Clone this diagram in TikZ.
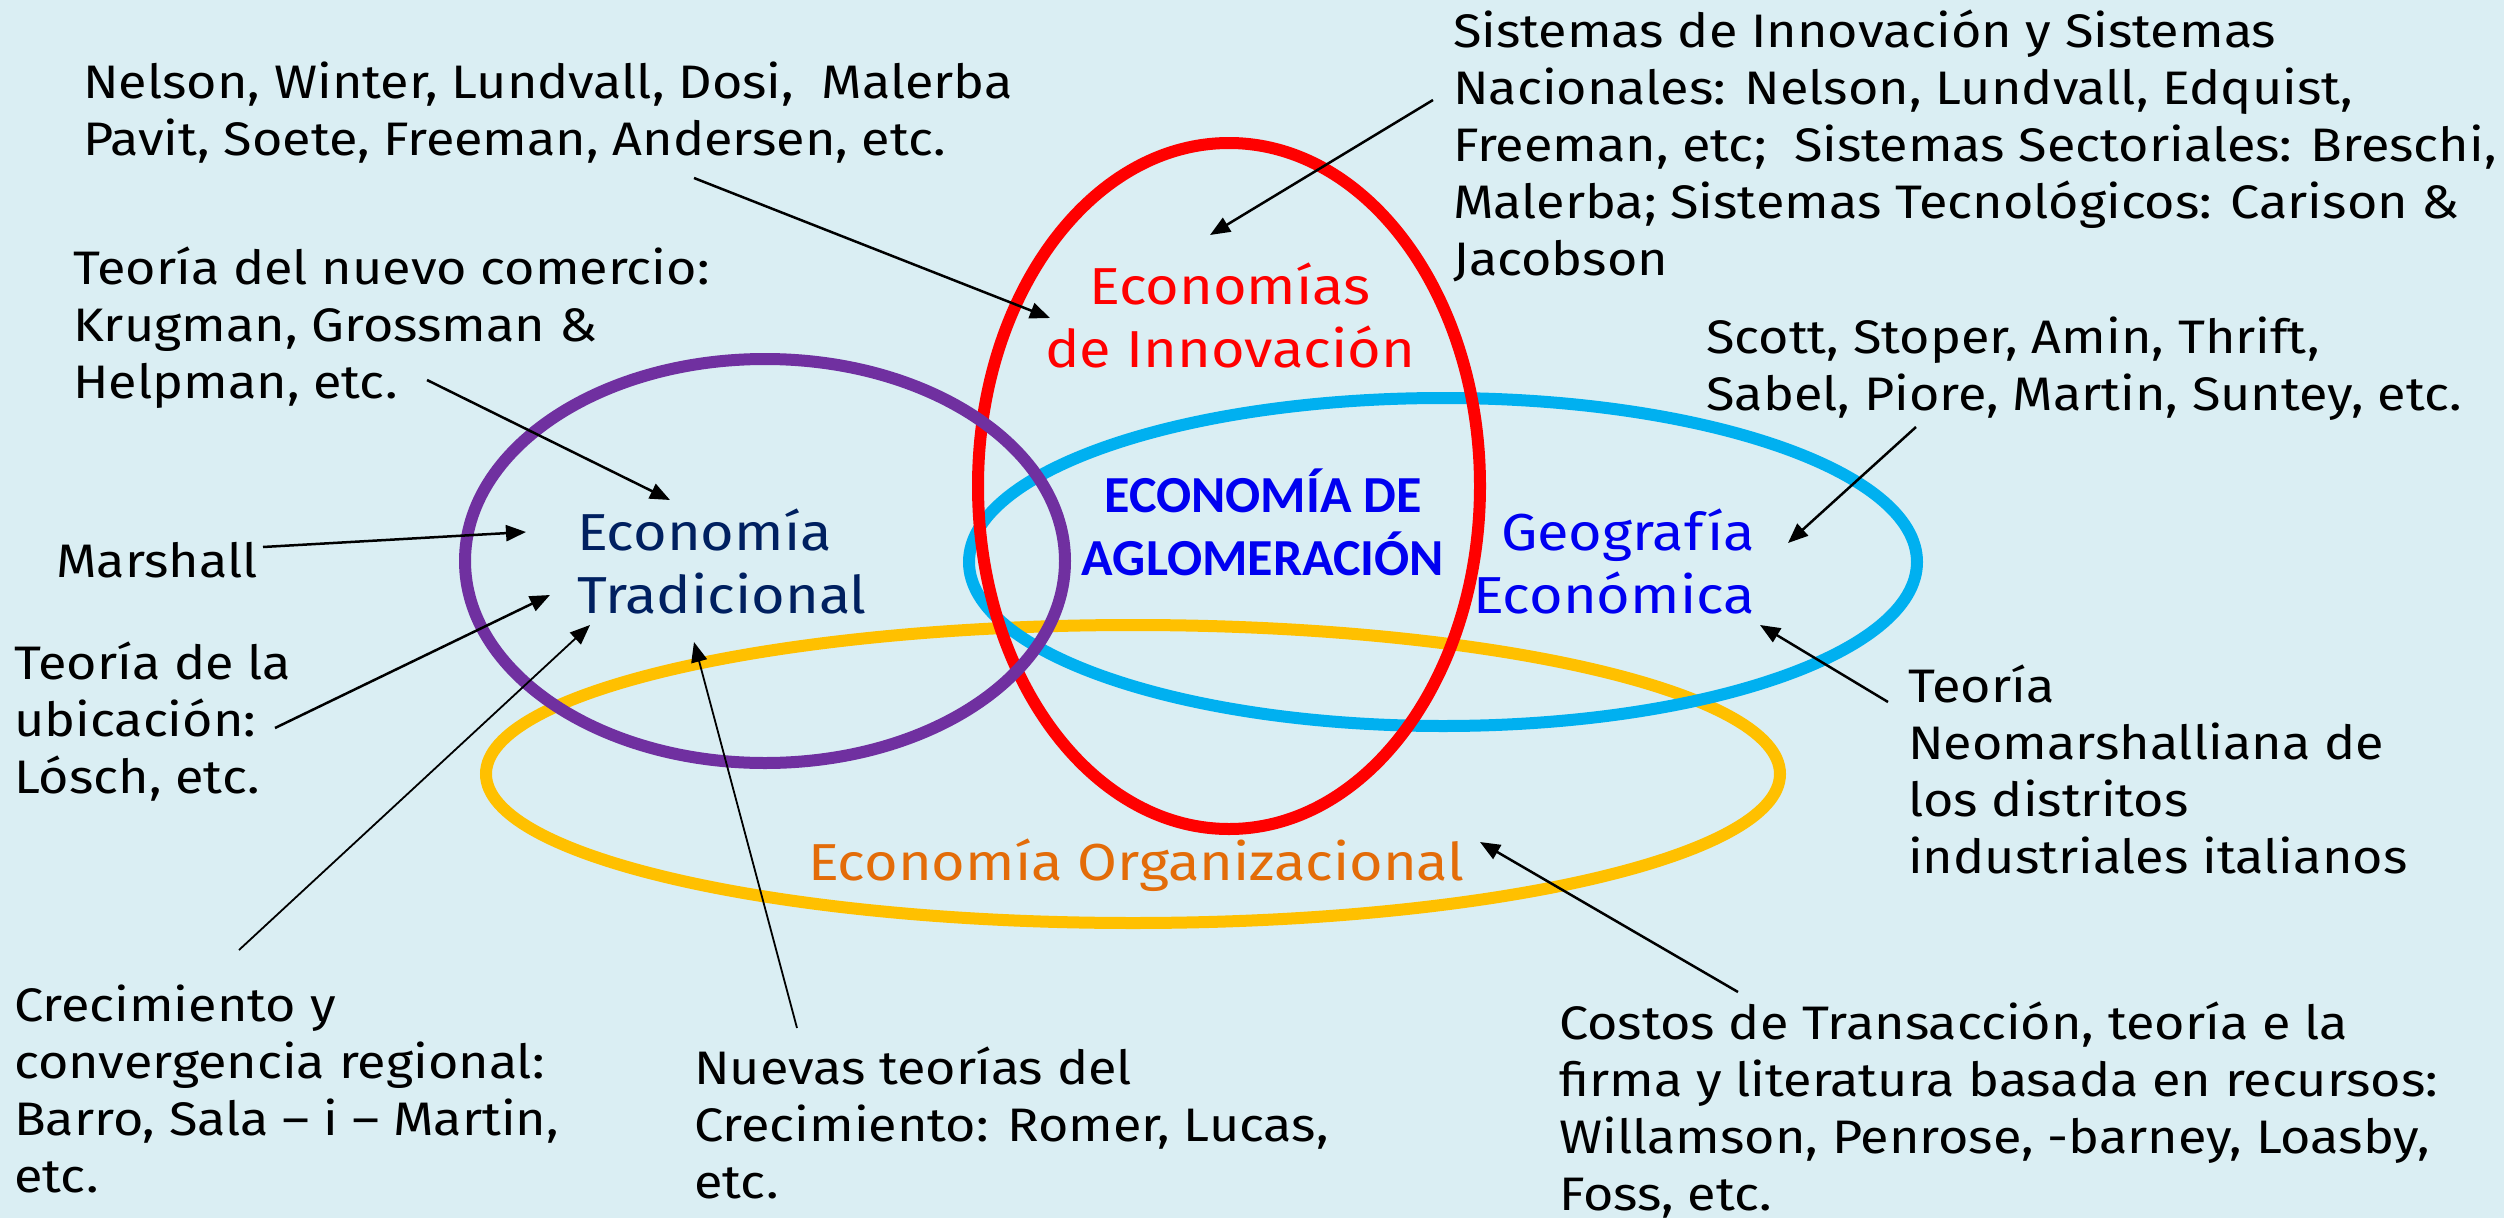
\documentclass[tikz,border=0pt]{standalone}
\usepackage{fontspec}
\setmainfont{Fira Sans}[FakeStretch=1.11]
\newfontfamily\aglofont{Carlito}
\usetikzlibrary{arrows.meta}
\definecolor{fondo}{HTML}{DAEEF3}
\definecolor{rojo}{HTML}{FF0000}
\definecolor{morado}{HTML}{7030A0}
\definecolor{celeste}{HTML}{00B0F0}
\definecolor{amarillo}{HTML}{FFC000}
\definecolor{marino}{HTML}{002060}
\definecolor{azul}{HTML}{0000F0}
\definecolor{naranja}{HTML}{E36C09}
\begin{document}
\begin{tikzpicture}[x=1pt,y=-1pt,
    etiqueta/.style={anchor=base west, align=left, inner sep=0pt, font=\fontsize{47}{57}\selectfont},
    centro/.style={inner sep=0pt, align=left, font=\fontsize{52}{63}\selectfont},
    flecha/.style={line width=2.5pt, -{Triangle[length=20pt,width=16pt]}},
    anillo/.style={line width=12pt}]
  \useasboundingbox[fill=fondo] (0,0) rectangle (2504,1218);

  % conjuntos
  \draw[anillo, amarillo] (1133,774) ellipse [x radius=647pt, y radius=149pt];
  \draw[anillo, celeste]  (1443,562) ellipse [x radius=474pt, y radius=164pt];
  \draw[anillo, rojo]     (1229,486) ellipse [x radius=251pt, y radius=343pt];
  \draw[anillo, morado]   (765,561)  ellipse [x radius=300pt, y radius=202pt];

  % campos (base = ultima linea)
  \node[centro, anchor=base, align=center, text=rojo] (innovN) at (1230,367) {Economías\\de Innovación};
  \node[centro, anchor=base, align=center, text=azul, font=\aglofont\bfseries\fontsize{52}{63}\selectfont]
                                                     (agloN)   at (1263,575) {ECONOMÍA DE\\AGLOMERACIÓN};
  \node[centro, anchor=base west, text=marino]       (tradN)   at (577,613)  {Economía\\Tradicional};
  \node[centro, anchor=base east, align=right, text=azul] (geoN) at (1755,613) {Geografía\\Económica};
  \node[centro, anchor=base west, text=naranja]      (orgN)    at (808,880)  {Economía Organizacional};

  % autores
  \node[etiqueta] (nelsonN)   at (83,155)   {Nelson, Winter, Lundvall, Dosi,~~Malerba\\Pavit, Soete, Freeman, Andersen, etc.};
  \node[etiqueta] (sistN)     at (1453,275) {Sistemas de Innovación y Sistemas\\Nacionales: Nelson, Lundvall, Edquist,\\Freeman, etc;~~Sistemas Sectoriales: Breschi,\\Malerba; Sistemas Tecnológicos: Carison \&\\Jacobson};
  \node[etiqueta] (comercioN) at (73,398)   {Teoría del nuevo comercio:\\Krugman, Grossman \&\\Helpman, etc.};
  \node[etiqueta] (scottN)    at (1706,410) {Scott, Stoper, Amin, Thrift,\\Sabel, Piore, Martin, Suntey, etc.};
  \node[etiqueta] (marshN)    at (56,577)   {Marshall};
  \node[etiqueta] (ubicN)     at (14,793)   {Teoría de la\\ubicación:\\Lósch, etc.};
  \node[etiqueta] (neoN)      at (1908,873) {Teoría\\Neomarshalliana de\\los distritos\\industriales italianos};
  \node[etiqueta] (crecN)     at (14,1192)  {Crecimiento y\\convergencia regional:\\Barro, Sala – i – Martin,\\etc.};
  \node[etiqueta] (nuevasN)   at (694,1198) {Nuevas teorías del\\Crecimiento: Romer, Lucas,\\etc.};
  \node[etiqueta] (costosN)   at (1559,1210) {Costos de Transacción, teoría e la\\firma y literatura basada en recursos:\\Willamson, Penrose, -barney, Loasby,\\Foss, etc.};

  % extremos de las flechas
  \coordinate (nelsonA)   at (694,178);   \coordinate (nelsonB)   at (1050,318);
  \coordinate (sistA)     at (1433,100);  \coordinate (sistB)     at (1210,235);
  \coordinate (comercioA) at (427,380);   \coordinate (comercioB) at (670,500);
  \coordinate (marshA)    at (263,547);   \coordinate (marshB)    at (526,532);
  \coordinate (ubicA)     at (275,728);   \coordinate (ubicB)     at (550,595);
  \coordinate (crecA)     at (239,950);   \coordinate (crecB)     at (590,625);
  \coordinate (nuevasA)   at (797,1028);  \coordinate (nuevasB)   at (694,642);
  \coordinate (scottA)    at (1916,427);  \coordinate (scottB)    at (1788,543);
  \coordinate (neoA)      at (1888,702);  \coordinate (neoB)      at (1760,625);
  \coordinate (costosA)   at (1738,992);  \coordinate (costosB)   at (1480,842);

  \draw[flecha] (nelsonA)   -- (nelsonB);
  \draw[flecha] (sistA)     -- (sistB);
  \draw[flecha] (comercioA) -- (comercioB);
  \draw[flecha] (marshA)    -- (marshB);
  \draw[flecha] (ubicA)     -- (ubicB);
  \draw[flecha, line width=1.8pt] (crecA)   -- (crecB);
  \draw[flecha, line width=1.8pt] (nuevasA) -- (nuevasB);
  \draw[flecha] (scottA)    -- (scottB);
  \draw[flecha] (neoA)      -- (neoB);
  \draw[flecha] (costosA)   -- (costosB);
\end{tikzpicture}
\end{document}
